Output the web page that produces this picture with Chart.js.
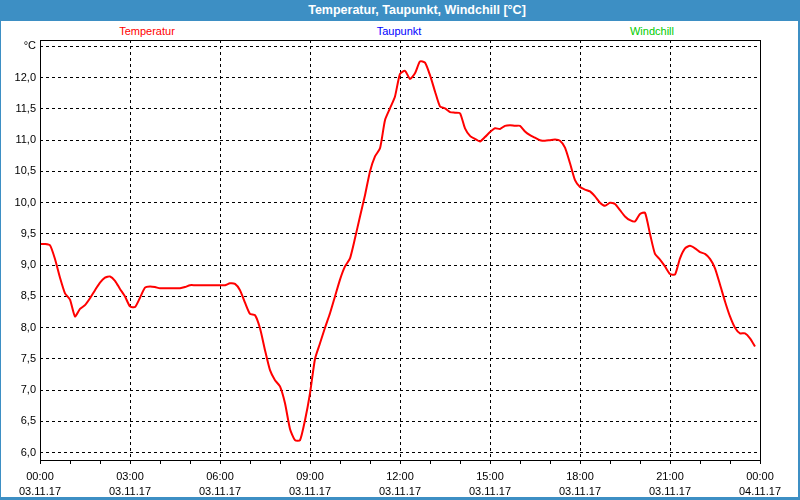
<!DOCTYPE html>
<html>
<head>
<meta charset="utf-8">
<script src="https://cdn.jsdelivr.net/npm/chart.js@4"></script>
<style>
  html, body { margin: 0; padding: 0; background: #fff; }
  #wrap { position: relative; width: 800px; height: 500px; overflow: hidden; background: #fff; font-family: "Liberation Sans", Arial, sans-serif; }
  #frame { position: absolute; left: 0; top: 0; width: 800px; height: 500px; box-sizing: border-box;
           border-left: 1px solid #3d8fc4; border-right: 2px solid #3d8fc4; border-bottom: 3px solid #3d8fc4; }
  #titlebar { position: absolute; left: 0; top: 0; width: 800px; height: 21px; background: #3d8fc4;
              color: #fff; font-weight: bold; font-size: 12.5px; line-height: 21px; }
  #titlebar span { position: absolute; left: 417px; top: 0; transform: translateX(-50%); white-space: nowrap; }
  .lg { position: absolute; top: 24px; font-size: 11px; line-height: 14px; transform: translateX(-50%); white-space: nowrap; }
  canvas { position: absolute; left: 0; top: 0; }
</style>
</head>
<body>
<div id="wrap">
  <div id="frame"></div>
  <div id="titlebar"><span>Temperatur, Taupunkt, Windchill [°C]</span></div>
  <div class="lg" style="left:147px;color:#ff0000">Temperatur</div>
  <div class="lg" style="left:399px;color:#0000ff">Taupunkt</div>
  <div class="lg" style="left:652px;color:#00cc00">Windchill</div>
  <canvas id="c" width="800" height="500"></canvas>
</div>
<script>
// Sample interval: 10 minutes, starting 00:00 on 03.11.17
const sampleStepMinutes = 10;
const temperatur = [
  9.34, 9.34, 9.32, 9.10, 8.80, 8.55, 8.45, 8.18, 8.30, 8.36, 8.47, 8.60,
  8.72, 8.80, 8.82, 8.75, 8.62, 8.50, 8.34, 8.33, 8.48, 8.64, 8.66, 8.65,
  8.63, 8.63, 8.63, 8.63, 8.63, 8.65, 8.68, 8.68, 8.68, 8.68, 8.68, 8.68,
  8.68, 8.68, 8.71, 8.70, 8.60, 8.40, 8.22, 8.20, 7.99, 7.64, 7.32, 7.16,
  7.06, 6.79, 6.38, 6.20, 6.20, 6.52, 6.95, 7.50, 7.75, 8.00, 8.23, 8.50,
  8.77, 8.98, 9.11, 9.43, 9.78, 10.12, 10.50, 10.74, 10.87, 11.32, 11.51, 11.70,
  12.06, 12.11, 11.98, 12.07, 12.26, 12.24, 12.04, 11.78, 11.54, 11.51, 11.45, 11.44,
  11.43, 11.19, 11.07, 11.02, 10.98, 11.05, 11.13, 11.19, 11.18, 11.23, 11.24, 11.23,
  11.23, 11.14, 11.08, 11.04, 11.00, 10.99, 11.00, 11.01, 10.99, 10.88, 10.63, 10.36,
  10.25, 10.21, 10.18, 10.10, 10.00, 9.95, 10.00, 9.98, 9.88, 9.78, 9.72, 9.70,
  9.82, 9.84, 9.50, 9.18, 9.09, 8.98, 8.86, 8.85, 9.11, 9.27, 9.31, 9.27,
  9.21, 9.18, 9.10, 8.95, 8.69, 8.42, 8.18, 8.00, 7.91, 7.91, 7.83, 7.70
];
const taupunkt = [];
const windchill = [];

const xTickMinutes = [0, 60, 120, 180, 240, 300, 360, 420, 480, 540, 600, 660, 720,
                      780, 840, 900, 960, 1020, 1080, 1140, 1200, 1260, 1320, 1380, 1440];
const xMajorMinutes = [0, 180, 360, 540, 720, 900, 1080, 1260, 1440];
const xTickLabels = [
  ['00:00', '03.11.17'], ['03:00', '03.11.17'], ['06:00', '03.11.17'],
  ['09:00', '03.11.17'], ['12:00', '03.11.17'], ['15:00', '03.11.17'],
  ['18:00', '03.11.17'], ['21:00', '03.11.17'], ['00:00', '04.11.17']
];
const yTickValues = [6.0, 6.5, 7.0, 7.5, 8.0, 8.5, 9.0, 9.5, 10.0, 10.5, 11.0, 11.5, 12.0, 12.5];
const yTickLabels = ['6,0', '6,5', '7,0', '7,5', '8,0', '8,5', '9,0', '9,5', '10,0', '10,5', '11,0', '11,5', '12,0', '°C'];
const yMin = 5.883, yMax = 12.603;

const tempPoints = temperatur.map((v, i) => ({ x: i * sampleStepMinutes, y: v }));

const frameBox = {
  id: 'frameBox',
  afterDatasetsDraw(chart) {
    const a = chart.chartArea, ctx = chart.ctx;
    ctx.save();
    ctx.strokeStyle = '#000';
    ctx.lineWidth = 1;
    ctx.setLineDash([]);
    ctx.strokeRect(Math.round(a.left) + 0.5, Math.round(a.top) + 0.5,
                   Math.round(a.right - a.left), Math.round(a.bottom - a.top));
    ctx.restore();
  }
};

const font = { family: '"Liberation Sans", Arial, sans-serif', size: 11 };

new Chart(document.getElementById('c'), {
  type: 'line',
  data: {
    datasets: [
      { label: 'Temperatur', data: tempPoints, borderColor: '#ff0000', borderWidth: 2,
        pointRadius: 0, tension: 0.2, fill: false },
      { label: 'Taupunkt', data: taupunkt, borderColor: '#0000ff', borderWidth: 2, pointRadius: 0 },
      { label: 'Windchill', data: windchill, borderColor: '#00cc00', borderWidth: 2, pointRadius: 0 }
    ]
  },
  options: {
    responsive: false,
    animation: false,
    layout: { padding: { left: 0, top: 40, right: 40, bottom: 0 } },
    plugins: { legend: { display: false }, title: { display: false }, tooltip: { enabled: false } },
    scales: {
      x: {
        type: 'linear', min: 0, max: 1440,
        afterBuildTicks(scale) { scale.ticks = xTickMinutes.map(v => ({ value: v })); },
        afterFit(scale) { scale.height = 40; },
        ticks: {
          autoSkip: false, maxRotation: 0, color: '#000', padding: 5,
          font: Object.assign({ lineHeight: 1.4 }, font),
          callback(value) {
            const k = xMajorMinutes.indexOf(value);
            return k >= 0 ? xTickLabels[k] : '';
          }
        },
        grid: {
          color: ctx => (ctx.tick && xMajorMinutes.indexOf(ctx.tick.value) >= 0) ? '#000' : 'rgba(0,0,0,0)',
          tickColor: '#000', tickLength: 4, lineWidth: 1, drawTicks: true,
          tickBorderDash: [0, 0]
        },
        border: { display: false, dash: [3, 3] }
      },
      y: {
        type: 'linear', min: yMin, max: yMax,
        afterBuildTicks(scale) { scale.ticks = yTickValues.map(v => ({ value: v })); },
        afterFit(scale) { scale.width = 40; },
        ticks: {
          color: '#000', padding: 4, font: font,
          callback(value, index) { return yTickLabels[index]; }
        },
        grid: { color: '#000', lineWidth: 1, drawTicks: false, tickLength: 0 },
        border: { display: false, dash: [3, 3] }
      }
    }
  },
  plugins: [frameBox]
});
</script>
</body>
</html>
